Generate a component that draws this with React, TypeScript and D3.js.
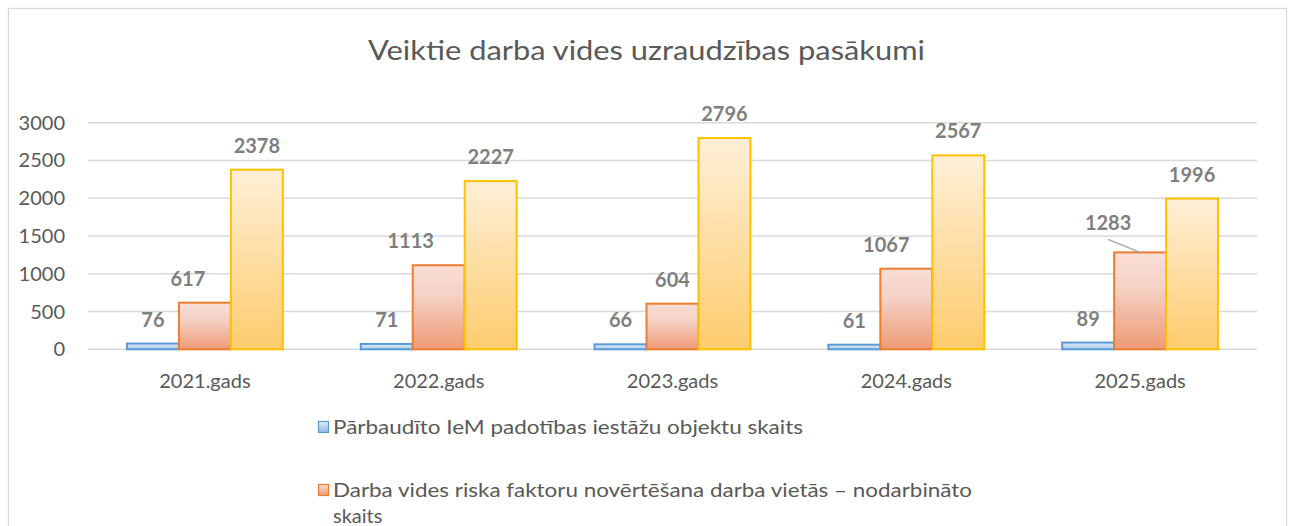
import React from "react";
import * as d3 from "d3";

const categories = ["2021.gads", "2022.gads", "2023.gads", "2024.gads", "2025.gads"];
const seriesNames = [
  "Pārbaudīto IeM padotības iestāžu objektu skaits",
  "Darba vides riska faktoru novērtēšana darba vietās – nodarbināto skaits",
  "Trešā sērija",
];
const inspected = [76, 71, 66, 61, 89];
const assessed = [617, 1113, 604, 1067, 1283];
const third = [2378, 2227, 2796, 2567, 1996];
const yTicks = [0, 500, 1000, 1500, 2000, 2500, 3000];
const title = "Veiktie darba vides uzraudzības pasākumi";

// manual label nudges (layout only) for the orange series
const orangeNudgeX = [-17, -28, 0, -20, -32];
const orangeNudgeY = [0, 0, 0, 0, -5];

const W = 1292;
const H = 526;
const FONT = "Lato, 'Open Sans', sans-serif";

export default function App() {
  const y = d3.scaleLinear().domain([0, 3000]).range([349.3, 122.7]);
  const x0 = d3.scaleBand<string>().domain(categories).range([88, 1257]).paddingInner(0).paddingOuter(0);
  const groupW = x0.bandwidth();
  const barW = groupW / 4.5;
  const x1 = d3
    .scaleBand<number>()
    .domain([0, 1, 2])
    .range([0.75 * barW, 3.75 * barW])
    .paddingInner(0)
    .paddingOuter(0);

  const series = [
    { values: inspected, grad: "gBlue", stroke: "#5B9BD5" },
    { values: assessed, grad: "gOrange", stroke: "#ED7D31" },
    { values: third, grad: "gYellow", stroke: "#FFC000" },
  ];

  return (
    <svg
      width={W}
      height={H}
      style={{ position: "absolute", left: 0, top: 0, background: "#fff" }}
      fontFamily={FONT}
    >
      <defs>
        <linearGradient id="gBlue" x1="0" y1="0" x2="0" y2="1">
          <stop offset="0" stopColor="#E2EEF9" />
          <stop offset="1" stopColor="#A6C8E8" />
        </linearGradient>
        <linearGradient id="gOrange" x1="0" y1="0" x2="0" y2="1">
          <stop offset="0" stopColor="#F9DDD5" />
          <stop offset="0.35" stopColor="#F5D2C6" />
          <stop offset="1" stopColor="#EE9A76" />
        </linearGradient>
        <linearGradient id="gYellow" x1="0" y1="0" x2="0" y2="1">
          <stop offset="0" stopColor="#FFEFD7" />
          <stop offset="1" stopColor="#FECC6E" />
        </linearGradient>
        <linearGradient id="gBlueL" x1="0" y1="0" x2="0" y2="1">
          <stop offset="0" stopColor="#E2EEF9" />
          <stop offset="1" stopColor="#8DB8E2" />
        </linearGradient>
        <linearGradient id="gOrangeL" x1="0" y1="0" x2="0" y2="1">
          <stop offset="0" stopColor="#F9DDD5" />
          <stop offset="1" stopColor="#EE9A76" />
        </linearGradient>
      </defs>

      {/* chart frame */}
      <rect x={8.5} y={8.5} width={1278} height={H + 20} fill="#fff" stroke="#D9D9D9" strokeWidth={1.3} />

      {/* title */}
      <text
        x={646.5}
        y={60}
        textAnchor="middle"
        fontSize={27}
        fill="#595959"
        textLength={557}
        lengthAdjust="spacingAndGlyphs"
      >
        {title}
      </text>

      {/* gridlines & y ticks */}
      {yTicks.map((t) => (
        <g key={t}>
          <line x1={88} x2={1257} y1={y(t)} y2={y(t)} stroke="#D9D9D9" strokeWidth={1.4} />
          <text x={65} y={y(t) + 7} textAnchor="end" fontSize={20} fill="#595959">
            {t}
          </text>
        </g>
      ))}

      {/* bars */}
      {series.map((s, si) =>
        categories.map((c, ci) => {
          const bx = (x0(c) as number) + (x1(si) as number);
          const by = y(s.values[ci]);
          return (
            <rect
              key={`${si}-${ci}`}
              x={bx}
              y={by}
              width={x1.bandwidth()}
              height={y(0) - by}
              fill={`url(#${s.grad})`}
              stroke={s.stroke}
              strokeWidth={2}
            />
          );
        })
      )}

      {/* leader line for 1283 */}
      {(() => {
        const ci = 4;
        const cx = (x0(categories[ci]) as number) + (x1(1) as number) + x1.bandwidth() / 2;
        const top = y(assessed[ci]);
        return <line x1={cx - 32} y1={top - 13} x2={cx} y2={top} stroke="#A6A6A6" strokeWidth={1.3} />;
      })()}

      {/* data labels */}
      {series.map((s, si) =>
        categories.map((c, ci) => {
          const cx = (x0(c) as number) + (x1(si) as number) + x1.bandwidth() / 2;
          const by = y(s.values[ci]);
          const dx = si === 1 ? orangeNudgeX[ci] : 0;
          const dy = si === 1 ? orangeNudgeY[ci] : 0;
          return (
            <text
              key={`l-${si}-${ci}`}
              x={cx + dx}
              y={by - 17 + dy}
              textAnchor="middle"
              fontSize={20}
              fontWeight="bold"
              fill="#7F7F7F"
            >
              {s.values[ci]}
            </text>
          );
        })
      )}

      {/* category labels */}
      {categories.map((c) => (
        <text
          key={c}
          x={(x0(c) as number) + groupW / 2}
          y={388}
          textAnchor="middle"
          fontSize={20}
          fill="#595959"
        >
          {c}
        </text>
      ))}

      {/* legend */}
      <rect x={318.5} y={421.5} width={10} height={11} fill="url(#gBlueL)" stroke="#5B9BD5" strokeWidth={1.2} />
      <text x={333} y={434} fontSize={20} fill="#595959" textLength={470} lengthAdjust="spacingAndGlyphs">
        {seriesNames[0]}
      </text>
      <rect x={318.5} y={484.5} width={10} height={11} fill="url(#gOrangeL)" stroke="#ED7D31" strokeWidth={1.2} />
      <text x={333} y={497} fontSize={20} fill="#595959" textLength={639} lengthAdjust="spacingAndGlyphs">
        {"Darba vides riska faktoru novērtēšana darba vietās – nodarbināto"}
      </text>
      <text x={333} y={523} fontSize={20} fill="#595959">
        {"skaits"}
      </text>
    </svg>
  );
}
